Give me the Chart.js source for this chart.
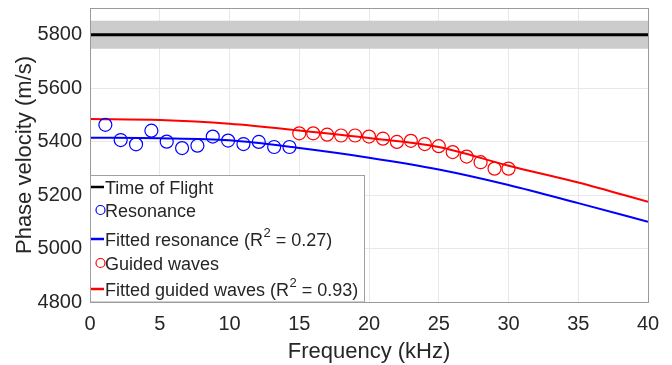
<!DOCTYPE html>
<html>
<head>
<meta charset="utf-8">
<script src="https://cdn.jsdelivr.net/npm/chart.js@4.4.1/dist/chart.umd.min.js"></script>
<style>
  html, body { margin: 0; padding: 0; background: #fff; }
  #wrap { width: 672px; height: 365px; position: relative; }
</style>
</head>
<body>
<div id="wrap"><canvas id="chart"></canvas></div>
<script>
// Frequency axis ticks (kHz) and phase velocity ticks (m/s)
const xTicks = [0, 5, 10, 15, 20, 25, 30, 35, 40];
const yTicks = [4800, 5000, 5200, 5400, 5600, 5800];

// Time of flight value with its uncertainty band
const tofFreq = [0, 40];
const tofValue = [5800, 5800];
const tofUpper = [5852, 5852];
const tofLower = [5748, 5748];

// Resonance measurements
const resFreq = [1.1, 2.2, 3.3, 4.4, 5.5, 6.6, 7.7, 8.8, 9.9, 11.0, 12.1, 13.2, 14.3];
const resVel = [5463, 5406, 5390, 5441, 5400, 5376, 5385, 5419, 5404, 5391, 5399, 5380, 5380];

// Guided wave measurements
const gwFreq = [15, 16, 17, 18, 19, 20, 21, 22, 23, 24, 25, 26, 27, 28, 29, 30];
const gwVel = [5431, 5431, 5426, 5423, 5423, 5419, 5411, 5399, 5403, 5391, 5383, 5361, 5344, 5323, 5299, 5299];

// Fitted curves, read at every 5 kHz
const fitFreq = [0, 5, 10, 15, 20, 25, 30, 35, 40];
const fitRes = [5415, 5413, 5405, 5376, 5340, 5296, 5238, 5170, 5100];
const fitGw = [5485, 5481, 5467, 5442, 5414, 5380, 5310, 5247, 5175];

const pts = (xs, ys) => xs.map((x, i) => ({ x: x, y: ys[i] }));

const FONT = '"Liberation Sans", Arial, sans-serif';
const TEXT = '#262626';

// legend drawn inside the axes, bottom left (like MATLAB 'southwest')
const boxLegend = {
    id: 'boxLegend',
    afterDraw(chart) {
        const ctx = chart.ctx;
        const area = chart.chartArea;
        ctx.save();
        // axes box (top and right edges too)
        ctx.strokeStyle = '#9a9a9a';
        ctx.lineWidth = 1;
        ctx.strokeRect(area.left + 0.5, area.top + 0.5, area.right - area.left, area.bottom - area.top);

        const items = chart.data.datasets.filter(d => d.inLegend);
        const rowY = [188, 211, 240, 264, 290];
        const left = area.left;
        const top = 175.5;
        ctx.fillStyle = '#fff';
        ctx.fillRect(left, top, 274, area.bottom - top);
        ctx.strokeStyle = '#a0a0a0';
        ctx.strokeRect(left + 0.5, top, 274, area.bottom - top);

        ctx.textBaseline = 'middle';
        items.forEach((d, i) => {
            const y = rowY[i];
            if (d.showLine) {
                ctx.strokeStyle = d.borderColor;
                ctx.lineWidth = 2.5;
                ctx.beginPath();
                ctx.moveTo(left + 1, y - 1);
                ctx.lineTo(left + 14, y - 1);
                ctx.stroke();
            } else {
                ctx.strokeStyle = d.borderColor;
                ctx.lineWidth = 1.2;
                ctx.beginPath();
                ctx.arc(left + 10.5, y - 1, 4.5, 0, Math.PI * 2);
                ctx.stroke();
            }
            // label, with a raised "2" for R squared
            const parts = d.label.split('\u00b2');
            let x = left + 15;
            ctx.fillStyle = TEXT;
            ctx.font = '18px ' + FONT;
            ctx.fillText(parts[0], x, y + 1);
            x += ctx.measureText(parts[0]).width;
            if (parts.length > 1) {
                ctx.font = '13px ' + FONT;
                ctx.fillText('2', x + 0.5, y - 7);
                x += ctx.measureText('2').width + 0.5;
                ctx.font = '18px ' + FONT;
                ctx.fillText(parts[1], x, y + 1);
            }
        });
        ctx.restore();
    }
};

new Chart(document.getElementById('chart'), {
    type: 'scatter',
    data: {
        datasets: [
            {
                label: 'band upper', data: pts(tofFreq, tofUpper), showLine: true,
                borderWidth: 0, borderColor: 'rgba(0,0,0,0)', pointRadius: 0, order: 10
            },
            {
                label: 'band lower', data: pts(tofFreq, tofLower), showLine: true,
                borderWidth: 0, borderColor: 'rgba(0,0,0,0)', pointRadius: 0,
                fill: '-1', backgroundColor: '#cccccc', order: 9
            },
            {
                label: 'Time of Flight', data: pts(tofFreq, tofValue), showLine: true, inLegend: true,
                borderColor: '#000000', borderWidth: 3, pointRadius: 0, order: 8
            },
            {
                label: 'Resonance', data: pts(resFreq, resVel), showLine: false, inLegend: true,
                borderColor: '#0000ff', backgroundColor: 'rgba(0,0,0,0)', borderWidth: 1.2,
                pointRadius: 6.5, order: 4
            },
            {
                label: 'Fitted resonance (R\u00b2 = 0.27)', data: pts(fitFreq, fitRes), showLine: true, inLegend: true,
                borderColor: '#0000ff', borderWidth: 2, pointRadius: 0,
                cubicInterpolationMode: 'monotone', order: 6
            },
            {
                label: 'Guided waves', data: pts(gwFreq, gwVel), showLine: false, inLegend: true,
                borderColor: '#ff0000', backgroundColor: 'rgba(0,0,0,0)', borderWidth: 1.2,
                pointRadius: 6.5, order: 3
            },
            {
                label: 'Fitted guided waves (R\u00b2 = 0.93)', data: pts(fitFreq, fitGw), showLine: true, inLegend: true,
                borderColor: '#ff0000', borderWidth: 2, pointRadius: 0,
                cubicInterpolationMode: 'monotone', order: 5
            }
        ]
    },
    options: {
        responsive: true,
        maintainAspectRatio: false,
        animation: false,
        layout: { padding: { top: 8, right: 24, left: 0, bottom: 0 } },
        plugins: {
            legend: { display: false },
            tooltip: { enabled: false },
            filler: { drawTime: 'beforeDatasetsDraw' }
        },
        scales: {
            x: {
                type: 'linear', min: 0, max: 40,
                afterBuildTicks: s => { s.ticks = xTicks.map(v => ({ value: v })); },
                afterFit: s => { s.height = 63; s.paddingLeft = 0; s.paddingRight = 0; },
                grid: { color: '#e8e8e8', drawTicks: false },
                border: { color: '#9a9a9a' },
                ticks: {
                    color: TEXT, font: { family: FONT, size: 20 }, padding: 10, maxRotation: 0,
                    callback: v => String(v)
                },
                title: {
                    display: true, text: 'Frequency (kHz)', color: TEXT,
                    font: { family: FONT, size: 22 }, padding: { top: 0, bottom: 0 }
                }
            },
            y: {
                type: 'linear', min: 4800, max: 5900,
                afterBuildTicks: s => { s.ticks = yTicks.map(v => ({ value: v })); },
                afterFit: s => { s.width = 90; s.paddingTop = 0; s.paddingBottom = 0; },
                grid: { color: '#e8e8e8', drawTicks: false },
                border: { color: '#9a9a9a' },
                ticks: {
                    color: TEXT, font: { family: FONT, size: 20 }, padding: 8,
                    callback: v => String(v)
                },
                title: {
                    display: true, text: 'Phase velocity (m/s)', color: TEXT,
                    font: { family: FONT, size: 22 }, padding: { top: 12, bottom: 0 }
                }
            }
        }
    },
    plugins: [boxLegend]
});
</script>
</body>
</html>
